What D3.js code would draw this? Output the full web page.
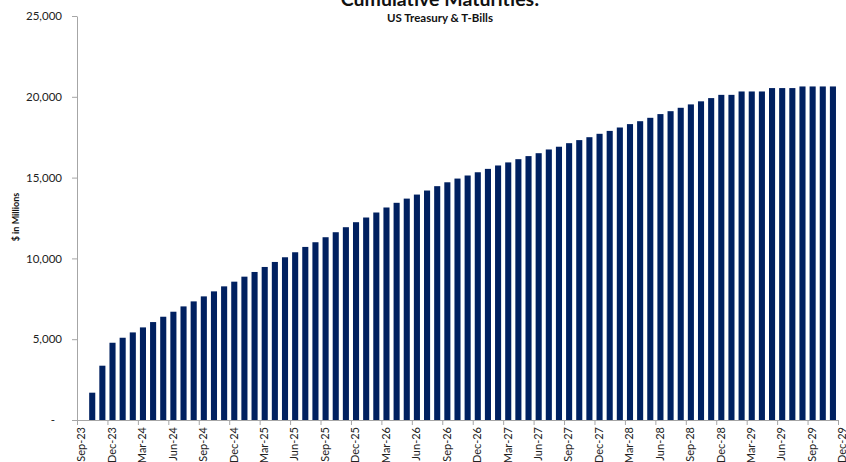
<!DOCTYPE html>
<html>
<head>
<meta charset="utf-8">
<script src="https://cdn.jsdelivr.net/npm/d3@7"></script>
<style>
  html, body { margin: 0; padding: 0; background: #fff; }
  svg { display: block; font-family: Lato, "Open Sans", sans-serif; }
</style>
</head>
<body>
<svg id="chart" width="846" height="462"></svg>
<script>
const months = [
  "Sep-23","Oct-23","Nov-23","Dec-23",
  "Jan-24","Feb-24","Mar-24","Apr-24","May-24","Jun-24","Jul-24","Aug-24","Sep-24","Oct-24","Nov-24","Dec-24",
  "Jan-25","Feb-25","Mar-25","Apr-25","May-25","Jun-25","Jul-25","Aug-25","Sep-25","Oct-25","Nov-25","Dec-25",
  "Jan-26","Feb-26","Mar-26","Apr-26","May-26","Jun-26","Jul-26","Aug-26","Sep-26","Oct-26","Nov-26","Dec-26",
  "Jan-27","Feb-27","Mar-27","Apr-27","May-27","Jun-27","Jul-27","Aug-27","Sep-27","Oct-27","Nov-27","Dec-27",
  "Jan-28","Feb-28","Mar-28","Apr-28","May-28","Jun-28","Jul-28","Aug-28","Sep-28","Oct-28","Nov-28","Dec-28",
  "Jan-29","Feb-29","Mar-29","Apr-29","May-29","Jun-29","Jul-29","Aug-29","Sep-29","Oct-29","Nov-29"
];
const cumulativeMaturities = [
  null,
  1690, 3360, 4780, 5090, 5420, 5730, 6060, 6390, 6700, 7030, 7340, 7650, 7960, 8270, 8560, 8870,
  9160, 9470, 9780, 10070, 10380, 10710, 11000, 11310, 11620, 11930, 12240, 12530, 12840, 13150, 13440,
  13700, 13950, 14200, 14470, 14710, 14940, 15130, 15330, 15540, 15750, 15940, 16140, 16330, 16510, 16740, 16910,
  17130, 17320, 17500, 17710, 17890, 18100, 18310, 18490, 18700, 18930, 19110, 19320, 19530, 19720, 19920,
  20120, 20120, 20330, 20330, 20330, 20540, 20540, 20540, 20640, 20640, 20640, 20640
];
const xTickLabels = [
  "Sep-23","Dec-23","Mar-24","Jun-24","Sep-24","Dec-24","Mar-25","Jun-25","Sep-25","Dec-25",
  "Mar-26","Jun-26","Sep-26","Dec-26","Mar-27","Jun-27","Sep-27","Dec-27","Mar-28","Jun-28",
  "Sep-28","Dec-28","Mar-29","Jun-29","Sep-29","Dec-29"
];
const yTicks = [0, 5000, 10000, 15000, 20000, 25000];
const titleText = "Cumulative Maturities:";
const subtitleText = "US Treasury & T-Bills";
const yAxisTitle = "$ in Millions";

const svg = d3.select("#chart");
const axisColor = "#a6a6a6";
const barColor = "#002060";

const plotLeft = 77, plotRight = 838, plotTop = 16, plotBottom = 420;

const x = d3.scaleLinear().domain([0, months.length]).range([plotLeft, plotRight]);
const y = d3.scaleLinear().domain([0, 25000]).range([plotBottom, plotTop]);
const step = x(1) - x(0);
const bw = step * 0.6;

// bars
svg.append("g").selectAll("rect")
  .data(cumulativeMaturities.map((v, i) => ({ v, i })).filter(d => d.v != null))
  .join("rect")
  .attr("x", d => x(d.i) + (step - bw) / 2)
  .attr("y", d => y(d.v))
  .attr("width", bw)
  .attr("height", d => y(0) - y(d.v))
  .attr("fill", barColor);

// y axis
const yAxis = d3.axisLeft(y)
  .tickValues(yTicks)
  .tickSize(5)
  .tickSizeOuter(0)
  .tickPadding(10)
  .tickFormat(d => d === 0 ? "-" : d3.format(",")(d));
const gy = svg.append("g").attr("transform", `translate(${plotLeft},0)`).call(yAxis);
gy.select(".domain").attr("stroke", axisColor);
gy.selectAll(".tick line").attr("stroke", axisColor);
gy.selectAll(".tick text")
  .attr("fill", "#222")
  .style("font-size", "11.5px")
  .style("font-family", "Lato, sans-serif")
  .attr("dx", d => d === 0 ? -7 : 0);

// x axis
const xAxis = d3.axisBottom(x)
  .tickValues(xTickLabels.map((_, i) => i * 3))
  .tickSize(5)
  .tickSizeOuter(0)
  .tickFormat((d, i) => xTickLabels[i]);
const gx = svg.append("g").attr("transform", `translate(0,${plotBottom})`).call(xAxis);
gx.select(".domain").attr("stroke", axisColor);
gx.selectAll(".tick line").attr("stroke", axisColor);
gx.selectAll(".tick text")
  .attr("fill", "#222")
  .style("font-size", "11px")
  .style("font-family", "Lato, sans-serif")
  .attr("text-anchor", "end")
  .attr("transform", "translate(4,7) rotate(-90)")
  .attr("x", 0)
  .attr("y", 0)
  .attr("dy", "0.35em");

// y axis title
svg.append("text")
  .attr("transform", "translate(19,217) rotate(-90)")
  .attr("text-anchor", "middle")
  .style("font-size", "9px")
  .style("font-weight", "bold")
  .attr("fill", "#111")
  .text(yAxisTitle);

// titles
svg.append("text")
  .attr("x", 440).attr("y", 6)
  .attr("text-anchor", "middle")
  .style("font-size", "19.5px")
  .style("font-weight", "bold")
  .attr("fill", "#111")
  .text(titleText);
svg.append("text")
  .attr("x", 440).attr("y", 22)
  .attr("text-anchor", "middle")
  .style("font-size", "11.5px")
  .style("font-weight", "bold")
  .attr("fill", "#111")
  .text(subtitleText);
</script>
</body>
</html>
